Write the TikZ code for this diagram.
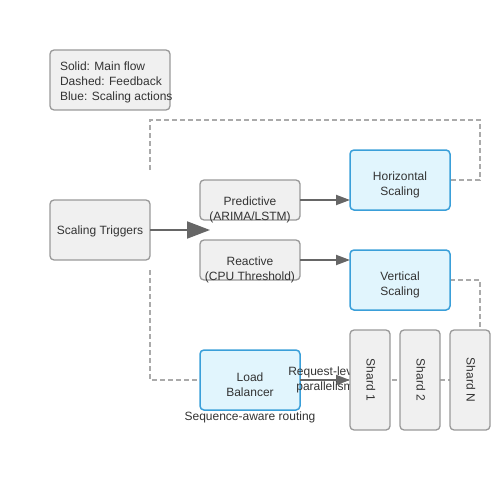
\documentclass[tikz,border=0pt]{standalone}
\usepackage{fontspec}
\setmainfont{Liberation Sans}
\usetikzlibrary{arrows.meta}
\definecolor{txt}{HTML}{333333}
\definecolor{grayfill}{HTML}{F0F0F0}
\definecolor{grayline}{HTML}{999999}
\definecolor{bluefill}{HTML}{E1F5FD}
\definecolor{blueline}{HTML}{3A9FD9}
\definecolor{arrowc}{HTML}{666666}
\definecolor{dashc}{HTML}{AAAAAA}
\begin{document}
\begin{tikzpicture}[x=1pt,y=-1pt,
  every node/.style={inner sep=0pt,outer sep=0pt,font=\fontsize{12}{15}\selectfont,text=txt},
  graybox/.style={draw=grayline,fill=grayfill,line width=1.3pt,rounded corners=4pt,anchor=north west},
  bluebox/.style={draw=blueline,fill=bluefill,line width=1.5pt,rounded corners=4pt,anchor=north west},
  lbl/.style={align=center},
  flow/.style={draw=arrowc,line width=2pt,-{Triangle[length=14pt,width=10pt]}},
  bigflow/.style={draw=arrowc,line width=2pt,-{Triangle[length=23pt,width=17pt]}},
  fb/.style={draw=dashc,line width=1.6pt,dash pattern=on 5pt off 3pt}]
\useasboundingbox (0,0) rectangle (500,500);
% legend
\node[graybox,minimum width=120pt,minimum height=60pt] (legend) at (50,50) {};
\node[anchor=west,align=left] (legendtxt) at (60,82) {Solid: Main flow\\Dashed: Feedback\\Blue: Scaling actions};
% feedback dashed lines
\coordinate (fa) at (150,170);
\coordinate (fb1) at (150,120);
\coordinate (fc) at (480,120);
\coordinate (fd) at (480,180);
\coordinate (ve) at (480,280);
\coordinate (vf) at (480,330);
\coordinate (la) at (150,270);
\coordinate (lb) at (150,380);
\coordinate (se) at (450,380);
\draw[fb] (fa) -- (fb1) -- (fc) -- (fd) -- (450,180);
\draw[fb] (450,280) -- (ve) -- (vf);
\draw[fb] (la) -- (lb) -- (se);
% boxes
\node[graybox,minimum width=100pt,minimum height=60pt] (trig) at (50,200) {};
\node (trigtxt) at (100,231.5) {Scaling Triggers};
\node[graybox,minimum width=100pt,minimum height=40pt] (pred) at (200,180) {};
\node[lbl] (predtxt) at (250,209.5) {Predictive\\(ARIMA/LSTM)};
\node[graybox,minimum width=100pt,minimum height=40pt] (react) at (200,240) {};
\node[lbl] (reacttxt) at (250,269.5) {Reactive\\(CPU Threshold)};
\node[bluebox,minimum width=100pt,minimum height=60pt] (hs) at (350,150) {};
\node[lbl] (hstxt) at (400,184.5) {Horizontal\\Scaling};
\node[bluebox,minimum width=100pt,minimum height=60pt] (vs) at (350,250) {};
\node[lbl] (vstxt) at (400,284.5) {Vertical\\Scaling};
\node[bluebox,minimum width=100pt,minimum height=60pt] (lbx) at (200,350) {};
\node[lbl] (lbtxt) at (250,384.5) {Load\\Balancer};
\node (seq) at (250,417) {Sequence-aware routing};
% arrows
\coordinate (trigend) at (210,230);
\draw[bigflow] (trig.east) -- (trigend);
\draw[flow] (pred.east) -- (hs.west |- pred.east);
\draw[flow] (react.east) -- (vs.west |- react.east);
\draw[flow] (lbx.east) -- (350,380);
\node[lbl] (req) at (325,379.5) {Request-level\\parallelism};
% shards
\node[graybox,minimum width=40pt,minimum height=100pt] (s1) at (350,330) {};
\node[rotate=-90] (s1t) at (371,380) {Shard 1};
\node[graybox,minimum width=40pt,minimum height=100pt] (s2) at (400,330) {};
\node[rotate=-90] (s2t) at (421,380) {Shard 2};
\node[graybox,minimum width=40pt,minimum height=100pt] (s3) at (450,330) {};
\node[rotate=-90] (s3t) at (471,380) {Shard N};
\end{tikzpicture}
\end{document}
